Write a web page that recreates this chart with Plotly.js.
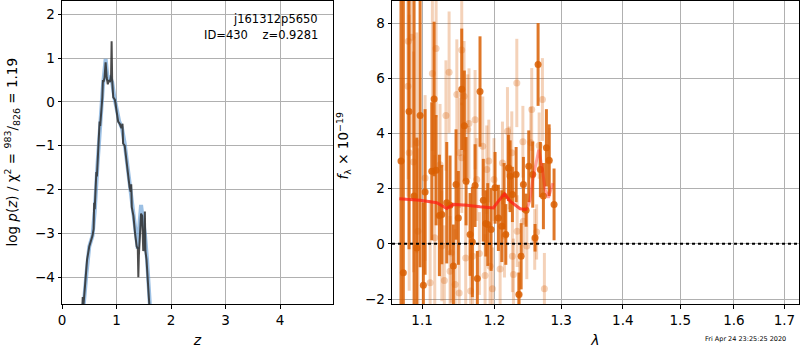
<!DOCTYPE html>
<html>
<head>
<meta charset="utf-8">
<script src="https://cdn.plot.ly/plotly-3.0.1.min.js"></script>
<style>html,body{margin:0;padding:0;background:#fff;}#chart{width:800px;height:350px;}</style>
</head>
<body>
<div id="chart"></div>
<script>
// ---- left panel: log p(z) ----
const zSmooth = [0.36,0.40,0.45,0.50,0.56,0.60,0.65,0.70,0.75,0.80,0.84,0.88,0.92,0.96,1.00,1.05,1.10,1.15,1.20,1.25,1.30,1.35,1.39,1.42,1.45,1.48,1.52,1.56,1.60,1.63];
const logpSmooth = [-5.0,-4.6,-3.9,-3.3,-3.05,-2.5,-1.45,-0.45,0.35,0.98,0.5,0.55,0.45,0.1,-0.2,-0.45,-0.6,-0.95,-1.45,-1.95,-2.45,-3.0,-3.35,-2.8,-2.35,-2.65,-3.0,-3.6,-4.5,-5.0];
const zNoisy = [0.37,0.38,0.39,0.42,0.46,0.50,0.56,0.58,0.59,0.60,0.63,0.64,0.66,0.68,0.69,0.70,0.72,0.74,0.75,0.76,0.78,0.79,0.80,0.82,0.84,0.86,0.88,0.90,0.91,0.92,0.94,0.97,1.00,1.03,1.06,1.09,1.11,1.12,1.15,1.18,1.21,1.24,1.26,1.27,1.28,1.31,1.34,1.37,1.39,1.40,1.41,1.43,1.45,1.47,1.49,1.51,1.52,1.53,1.55,1.58,1.61];
const logpNoisy = [-4.8,-4.45,-4.7,-4.2,-3.6,-3.3,-3.05,-2.9,-2.3,-2.45,-1.6,-1.7,-1.2,-0.7,-0.45,-0.55,-0.3,0.1,0.5,0.45,0.55,0.85,0.9,0.55,0.4,0.5,0.45,0.6,1.38,0.5,0.1,0.05,-0.25,-0.45,-0.5,-0.6,-0.5,-0.95,-1.0,-1.3,-1.7,-1.95,-2.05,-1.88,-2.4,-2.6,-3.0,-3.3,-3.35,-4.0,-3.5,-2.9,-2.55,-2.6,-3.4,-3.3,-2.5,-3.4,-3.6,-4.2,-4.8];
const zTicks = [0,1,2,3,4];
const logpTicks = [-4,-3,-2,-1,0,1,2];

// ---- right panel: spectrum ----
const lamDark = [1.0725,1.0755,1.0829,1.0895,1.0930,1.0974,1.1017,1.1040,1.1129,1.1160,1.1187,1.1231,1.1264,1.1331,1.1376,1.1421,1.1458,1.1490,1.1537,1.1573,1.1597,1.1653,1.1685,1.1723,1.1755,1.1793,1.1840,1.1875,1.1903,1.1951,1.2008,1.2056,1.2106,1.2139,1.2164,1.2202,1.2227,1.2261,1.2316,1.2356,1.2390,1.2424,1.2464,1.2504,1.2564,1.2599,1.2645,1.2680,1.2726,1.2772,1.2814,1.2890];
const fluxDark = [3.0,-1.05,4.8,1.73,-0.15,4.65,-1.5,1.88,2.63,5.25,2.67,1.03,1.06,1.49,1.40,-0.8,2.15,0.94,5.6,4.28,2.27,0.34,0.07,2.11,-1.26,5.52,1.58,0.74,0.70,0.52,2.03,0.94,0.64,1.73,0.34,2.75,2.45,1.79,2.51,-1.84,-0.45,2.15,1.22,2.81,2.51,0.22,6.5,2.69,1.73,3.48,3.03,1.43];
const errDark = [7,10,5,7.5,4,5.5,3,3,2.5,2.8,2,2.2,1.8,2.2,1.8,1.5,2,1.7,2.2,2.0,1.6,1.5,2.0,1.5,1.0,2.0,1.5,1.2,1.5,1.5,1.3,1.2,1.3,1.2,1.1,1.2,1.3,1.0,1.0,0.8,1.2,1.0,0.6,1.3,1.2,0.5,1.5,1.0,1.2,1.4,1.3,1.3];
const lamLight = [1.0820,1.0864,1.0815,1.0831,1.0887,1.0930,1.0945,1.1040,1.1107,1.1137,1.1169,1.1187,1.1240,1.1264,1.1298,1.1320,1.1363,1.1376,1.1390,1.1446,1.1469,1.1501,1.1505,1.1537,1.1537,1.1569,1.1592,1.1620,1.1638,1.1661,1.1689,1.1723,1.1746,1.1784,1.1832,1.1865,1.1889,1.1918,1.1936,1.1970,1.1993,1.2081,1.2115,1.2144,1.2188,1.2213,1.2252,1.2261,1.2276,1.2326,1.2331,1.2365,1.2416,1.2424,1.2475,1.2534,1.2549,1.2594,1.2623,1.2661,1.2711,1.2741,1.2818];
const fluxLight = [7.34,7.49,5.71,3.30,2.97,3.66,0.46,2.39,-1.41,6.17,0.22,7.08,2.87,-0.08,-1.33,4.65,6.22,-0.99,-0.33,-1.47,5.41,-1.78,3.30,7.02,3.12,5.35,-0.51,4.14,4.36,-1.71,-0.45,4.5,2.33,-0.35,3.54,-1.15,2.69,3.0,-0.81,-1.63,2.33,-0.91,2.93,0.28,4.08,2.75,3.30,-0.45,-1.11,5.83,0.46,-1.84,3.70,0.82,-0.08,3.66,4.87,0.16,0.43,3.56,5.23,-1.63,3.0];
const errLight = [5,4,4,5,4,4,3,3,3,2.8,3,2.5,2.2,2,2,2,2.2,2,1.8,2,2,1.8,2,2,2,2,2,2,2,1.5,1.8,1.8,1.5,1.5,1.8,1.5,1.6,1.5,1.5,1.5,1.5,1.5,1.5,1.5,1.6,1.5,1.5,1.3,1.3,1.6,1.3,1.2,1.3,1.2,1.2,1.3,1.5,1.1,1.0,1.2,1.5,1.3,1.2];
const lamModel = [1.0704,1.0974,1.1196,1.1331,1.1421,1.1606,1.1793,1.1984,1.2056,1.2144,1.2227,1.2375,1.2475,1.2524,1.2564,1.2656,1.2711,1.2752,1.2803,1.2870];
const fluxModel = [1.63,1.58,1.49,1.28,1.43,1.40,1.34,1.30,1.55,1.81,1.55,1.27,1.24,1.6,2.33,3.42,2.69,1.97,1.67,2.2];
const modelSolidCount = 13;
const lamTicks = [1.1,1.2,1.3,1.4,1.5,1.6,1.7];
const fluxTicks = [-2,0,2,4,6,8];

const labelName = "j161312p5650";
const labelInfo = "ID=430    z=0.9281";
const stamp = "Fri Apr 24 23:25:25 2020";

const orange = "217,95,2";
const font = "DejaVu Sans";

const traces = [
  {x: zSmooth, y: logpSmooth, xaxis:"x", yaxis:"y", mode:"lines", line:{color:"rgba(90,150,210,0.6)", width:4}, hoverinfo:"skip"},
  {x: zNoisy, y: logpNoisy, xaxis:"x", yaxis:"y", mode:"lines", line:{color:"rgba(45,45,45,0.85)", width:2}, hoverinfo:"skip"},
  {x: lamLight, y: fluxLight, xaxis:"x2", yaxis:"y2", mode:"markers",
   marker:{color:"rgba("+orange+",0.28)", size:7},
   error_y:{type:"data", array: errLight, visible:true, color:"rgba("+orange+",0.28)", thickness:3, width:0}},
  {x: lamDark, y: fluxDark, xaxis:"x2", yaxis:"y2", mode:"markers",
   marker:{color:"rgba("+orange+",0.85)", size:7},
   error_y:{type:"data", array: errDark, visible:true, color:"rgba("+orange+",0.85)", thickness:3, width:0}},
  {x: lamModel.slice(0, modelSolidCount), y: fluxModel.slice(0, modelSolidCount), xaxis:"x2", yaxis:"y2", mode:"lines",
   line:{color:"rgba(255,30,20,0.75)", width:3}},
  {x: lamModel.slice(modelSolidCount-1), y: fluxModel.slice(modelSolidCount-1), xaxis:"x2", yaxis:"y2", mode:"lines",
   line:{color:"rgba(255,30,20,0.4)", width:3}}
];

const axBase = {showline:true, linecolor:"#000", linewidth:1, mirror:true, ticks:"outside", ticklen:3.5, tickcolor:"#000",
  showgrid:true, gridcolor:"#b0b0b0", gridwidth:1, zeroline:false, tickfont:{family:font, size:13.5, color:"#000"}};

const layout = {
  width:800, height:350, margin:{l:62, r:1, t:1, b:46},
  paper_bgcolor:"#fff", plot_bgcolor:"#fff", showlegend:false,
  font:{family:font, color:"#000"},
  xaxis: Object.assign({}, axBase, {domain:[0, 0.3677], range:[0, 4.97], tickvals: zTicks, ticktext: zTicks.map(String),
    title:{text:"<i>z</i>", font:{family:font, size:14}, standoff:8}}),
  yaxis: Object.assign({}, axBase, {domain:[0,1], range:[-4.61, 2.3], tickvals: logpTicks, anchor:"x"}),
  xaxis2: Object.assign({}, axBase, {domain:[0.4478, 1], type:"log", range:[Math.log10(1.061), Math.log10(1.73)], anchor:"y2",
    tickvals: lamTicks, ticktext: lamTicks.map(v=>v.toFixed(1)),
    title:{text:"<i>λ</i>", font:{family:font, size:14}, standoff:8}}),
  yaxis2: Object.assign({}, axBase, {domain:[0,1], range:[-2.18, 8.8], tickvals: fluxTicks, anchor:"x2"}),
  shapes:[
    {type:"line", xref:"x2 domain", yref:"y2", x0:0, x1:1, y0:0, y1:0, line:{color:"#000", width:2, dash:"dot"}}
  ],
  annotations:[
    {text: labelName, xref:"paper", yref:"paper", x:(320-62)/737, y:(304-19)/303, xanchor:"right", yanchor:"middle", showarrow:false, font:{family:font, size:11.5, color:"#000"}},
    {text: labelInfo, xref:"paper", yref:"paper", x:(320-62)/737, y:(304-35)/303, xanchor:"right", yanchor:"middle", showarrow:false, font:{family:font, size:11.5, color:"#000"}},
    {text: "log <i>p</i>(<i>z</i>) / χ<sup>2</sup> = <sup>983</sup>/<sub>826</sub> = 1.19", textangle:-90, xref:"paper", yref:"paper", x:(12-62)/737, y:0.5, xanchor:"center", yanchor:"middle", showarrow:false, font:{family:font, size:13.5, color:"#000"}},
    {text: "<i>f</i><sub>λ</sub> × 10<sup>−19</sup>", textangle:-90, xref:"paper", yref:"paper", x:(344-62)/737, y:0.52, xanchor:"center", yanchor:"middle", showarrow:false, font:{family:font, size:13.5, color:"#000"}},
    {text: stamp, xref:"paper", yref:"paper", x:(788-62)/737, y:(304-339)/303, xanchor:"right", yanchor:"middle", showarrow:false, font:{family:font, size:6.5, color:"#000"}}
  ]
};

Plotly.newPlot("chart", traces, layout, {displayModeBar:false, staticPlot:true});
</script>
</body>
</html>
